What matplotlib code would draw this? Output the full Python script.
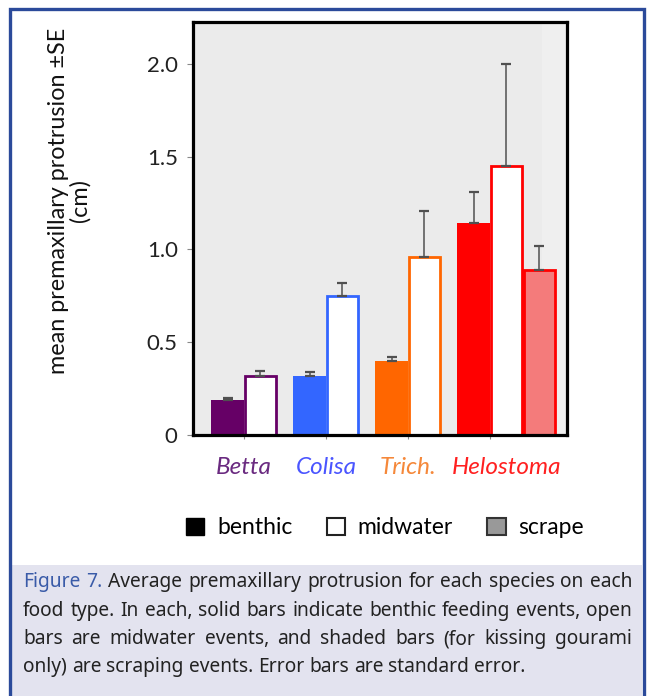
import matplotlib
matplotlib.use("Agg")
from matplotlib import pyplot as plt
from matplotlib.patches import Patch, Rectangle
import numpy as np

# Mean premaxillary protrusion (cm) and upper standard error per species
species = ["Betta", "Colisa", "Trich.", "Helostoma"]
species_colors = ["#660066", "#3366FF", "#FF6600", "#FF0000"]
label_colors = ["#6A2A80", "#4A55FF", "#F5883A", "#FF2020"]
benthic = [0.19, 0.32, 0.40, 1.14]
benthic_se = [0.01, 0.02, 0.02, 0.17]
midwater = [0.32, 0.75, 0.96, 1.45]
midwater_se = [0.025, 0.07, 0.245, 0.55]
scrape = [0.89]          # kissing gourami (Helostoma) only
scrape_se = [0.13]
ytick_vals = [0, 0.5, 1.0, 1.5, 2.0]
ytick_labels = ["0", "0.5", "1.0", "1.5", "2.0"]

caption_lines = [
    "Figure 7.  Average premaxillary protrusion for each species on each",
    "food type. In each, solid bars indicate benthic feeding events, open",
    "bars are midwater events, and shaded bars (for kissing gourami",
    "only) are scraping events. Error bars are standard error.",
]

W, H = 647, 696
fig = plt.figure(figsize=(W / 100, H / 100), dpi=100)
plt.rcParams['font.family'] = ['Lato', 'DejaVu Sans']

# page frame and caption panel
fig.patches.append(Rectangle((11 / W, 0), 631 / W, 1 - 565 / H, transform=fig.transFigure,
                             facecolor="#E3E3EF", edgecolor="none", zorder=0))
fig.patches.append(Rectangle((9.5 / W, -0.05), 634 / W, 1.05 - 9.5 / H, transform=fig.transFigure,
                             facecolor="none", edgecolor="#2B4A9A", linewidth=2.4, zorder=1))

ax = fig.add_axes([193 / W, 1 - 435 / H, 374 / W, 413 / H])
ax.set_facecolor("#EBEBEB")
x = np.arange(len(species))
bw = 0.41

ax.axvspan(3.64, 4.0, color="#EFEFEF", zorder=0, lw=0)

ax.bar(x - 0.2, benthic, bw, color=species_colors, edgecolor="none", zorder=2)
ax.bar(x + 0.2, midwater, bw - 0.03, color="white", edgecolor=species_colors,
       linewidth=2.0, zorder=2)
ax.bar([3.6], scrape, bw - 0.03, color="#F47B7B", edgecolor="#FF0000", linewidth=2.0, zorder=2)

err_kw = dict(fmt="none", ecolor="#505050", elinewidth=1.1, capsize=3.5, capthick=1.6, zorder=3)
ax.errorbar(x - 0.2, benthic, yerr=[np.zeros(4), benthic_se], **err_kw)
ax.errorbar(x + 0.2, midwater, yerr=[np.zeros(4), midwater_se], **err_kw)
ax.errorbar([3.6], scrape, yerr=[[0], scrape_se], **err_kw)

ax.set_xlim(-0.622, 3.94)
ax.set_ylim(0, 2.226)
ax.set_yticks(ytick_vals)
ax.set_yticklabels(ytick_labels, fontsize=16, color="#222222")
ax.set_xticks(x)
ax.set_xticklabels([])
ax.tick_params(axis="y", length=4, width=0.8, color="#888888", pad=7)
ax.tick_params(axis="x", length=3, width=0.8, color="#888888")
for s in ax.spines.values():
    s.set_linewidth(2.3)
    s.set_color("black")

# species names under each group
name_x = [0, 1, 2, 3.2]
for xi, name, c in zip(name_x, species, label_colors):
    ax.text(xi, -0.078, name, transform=ax.get_xaxis_transform(), ha="center", va="center",
            fontsize=17.5, style="italic", color=c)

fig.text(69 / W, 1 - 201 / H, "mean premaxillary protrusion \u00b1SE\n(cm)", rotation=90,
         ha="center", va="center", multialignment="center", fontsize=16.8, color="#111111",
         linespacing=1.0)

handles = [Patch(facecolor="black", edgecolor="black", label="benthic"),
           Patch(facecolor="white", edgecolor="#222222", linewidth=1.5, label="midwater"),
           Patch(facecolor="#999999", edgecolor="#333333", linewidth=1.5, label="scrape")]
fig.legend(handles=handles, loc="center", bbox_to_anchor=(385 / W, 1 - 528 / H), ncol=3,
           frameon=False, fontsize=16.5, handlelength=0.8, handleheight=0.8,
           handletextpad=0.55, columnspacing=1.5)

# justified caption, word by word
renderer = fig.canvas.get_renderer()
cap_kw = dict(family=['Noto Sans', 'DejaVu Sans'], fontstretch="condensed")
left, right = 23, 632
line_y = [582, 611, 639, 667]

# pick a size so the longest full line fits the panel with ordinary spacing
probe = [fig.text(0, 0, ln, fontsize=14, **cap_kw) for ln in caption_lines]
widest = max(p.get_window_extent(renderer).width for p in probe)
for p in probe:
    p.remove()
cap_size = min(15.0, 14 * (right - left) / widest)

for li, (line, yy) in enumerate(zip(caption_lines, line_y)):
    words = line.split()
    texts = []
    for wi, w in enumerate(words):
        col = "#3A5BA8" if (li == 0 and wi < 2) else "#222222"
        t = fig.text(0, 1 - yy / H, w, ha="left", va="center", fontsize=cap_size,
                     color=col, **cap_kw)
        texts.append(t)
    widths = [t.get_window_extent(renderer).width for t in texts]
    space = cap_size * 100 / 72 * 0.26
    if li < len(caption_lines) - 1:
        gap = (right - left - sum(widths)) / (len(words) - 1)
    else:
        gap = space
    pos = left
    for t, w in zip(texts, widths):
        t.set_x(pos / W)
        pos += w + gap

fig.savefig("out.png", dpi=100)
